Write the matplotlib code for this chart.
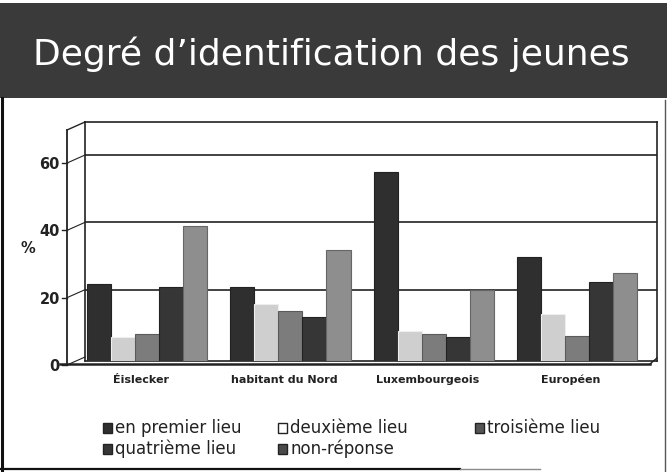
import matplotlib
matplotlib.use("Agg")
import matplotlib.pyplot as plt
from matplotlib.patches import Rectangle
from matplotlib.lines import Line2D
from matplotlib.transforms import ScaledTranslation
import numpy as np

W, H = 667, 472

categories = ["Éislecker", "habitant du Nord", "Luxembourgeois", "Européen"]
series_names = ["en premier lieu", "deuxième lieu", "troisième lieu",
                "quatrième lieu", "non-réponse"]
premier = [23, 22, 56, 31]
deuxieme = [7, 17, 9, 14]
troisieme = [8, 15, 8, 7.5]
quatrieme = [22, 13, 7, 23.5]
non_reponse = [40, 33, 21, 26]
yticks = [0, 20, 40, 60]

series = [premier, deuxieme, troisieme, quatrieme, non_reponse]
colors = ["#2f2f2f", "#cfcfcf", "#7c7c7c", "#363636", "#8e8e8e"]
edges = ["#222222", "#eeeeee", "#5a5a5a", "#222222", "#666666"]
legend_faces = ["#2f2f2f", "#ffffff", "#555555", "#363636", "#4a4a4a"]


def fx(px):
    return px / W


def fy(py):
    return 1 - py / H


def fig_line(xs, ys, **kw):
    fig.add_artist(Line2D([fx(v) for v in xs], [fy(v) for v in ys],
                          transform=fig.transFigure, **kw))


fig = plt.figure(figsize=(W / 100, H / 100), dpi=100)
fig.patch.set_facecolor("white")

# title banner
fig.add_artist(Rectangle((0, fy(98)), 1, fy(3) - fy(98),
                         transform=fig.transFigure, facecolor="#3a3a3a",
                         edgecolor="none", zorder=0))
fig.text(fx(33), fy(65), "Degré d’identification des jeunes", color="white",
         fontsize=26, va="baseline", ha="left", family="DejaVu Sans")

# slide frame
fig_line([2, 2], [98, 470], color="#111111", lw=2.2)
fig_line([0, 460], [469, 469], color="#111111", lw=1.6)
fig_line([460, 540], [469, 469], color="#8a8a8a", lw=1.0)
fig_line([665, 665], [100, 472], color="#555555", lw=1.0)

# plot area (back wall); front faces of the columns sit on the data scale
left, right, top, bottom = 85, 657, 122, 361
ax = fig.add_axes([fx(left), fy(bottom), fx(right - left), fy(top) - fy(bottom)])
ax.set_facecolor("white")
ax.set_xlim(-0.433, 3.558)
ax.set_ylim(0, 71)

x = np.arange(len(categories))
bw = 0.168
offsets = (np.arange(len(series)) - 2) * bw
for vals, off, c, e, name in zip(series, offsets, colors, edges, series_names):
    ax.bar(x + off, vals, width=bw, color=c, edgecolor=e, linewidth=0.8,
           label=name, zorder=3)

back_shift = ScaledTranslation(0, 0.04, fig.dpi_scale_trans)
front_shift = ScaledTranslation(0, -0.04, fig.dpi_scale_trans)

ax.set_yticks(yticks)
ax.set_yticklabels([str(t) for t in yticks], fontsize=10.5, fontweight="bold",
                   color="#222222")
ax.tick_params(axis="y", length=0, pad=18)
for lab in ax.get_yticklabels():
    lab.set_transform(lab.get_transform() + front_shift)
ax.set_xticks([])
for g in [20, 40, 60]:
    ln = ax.axhline(g, color="#222222", lw=1.2, zorder=1)
    ln.set_transform(ln.get_transform() + back_shift)
for s in ax.spines.values():
    s.set_color("#222222")
    s.set_linewidth(1.2)

# side wall and floor edges of the 3-D frame
fig_line([67, 67], [130, 365], color="#222222", lw=1.3)
fig_line([67, left], [130, top], color="#222222", lw=1.0)
fig_line([60, 650], [364, 364], color="#222222", lw=1.8)
fig_line([650, right], [364, 358], color="#222222", lw=1.0)
for t in yticks:
    py = H - ax.transData.transform((0, t))[1]
    fig_line([62, 67], [py + 4, py + 4], color="#222222", lw=1.0)
    fig_line([67, left], [py + 4, py - 4], color="#222222", lw=0.8)

fig.text(fx(28), fy(248), "%", fontsize=10.5, fontweight="bold",
         color="#222222", ha="center", va="center")

# category labels
for i, cat in enumerate(categories):
    xp = ax.transData.transform((i, 0))[0] - 6
    fig.text(xp / W, fy(380), cat, fontsize=8, fontweight="bold",
             color="#222222", ha="center", va="center")

# legend
legend_pos = [(103, 428), (278, 428), (475, 428), (103, 449), (278, 449)]
for (lx, ly), name, face in zip(legend_pos, series_names, legend_faces):
    fig.add_artist(Rectangle((fx(lx), fy(ly + 5)), fx(9), fy(ly - 5) - fy(ly + 5),
                             transform=fig.transFigure, facecolor=face,
                             edgecolor="#222222", linewidth=1.0))
    fig.text(fx(lx + 12), fy(ly), name, fontsize=12, color="#222222",
             ha="left", va="center")

fig.savefig("out.png", dpi=100, facecolor="white")
